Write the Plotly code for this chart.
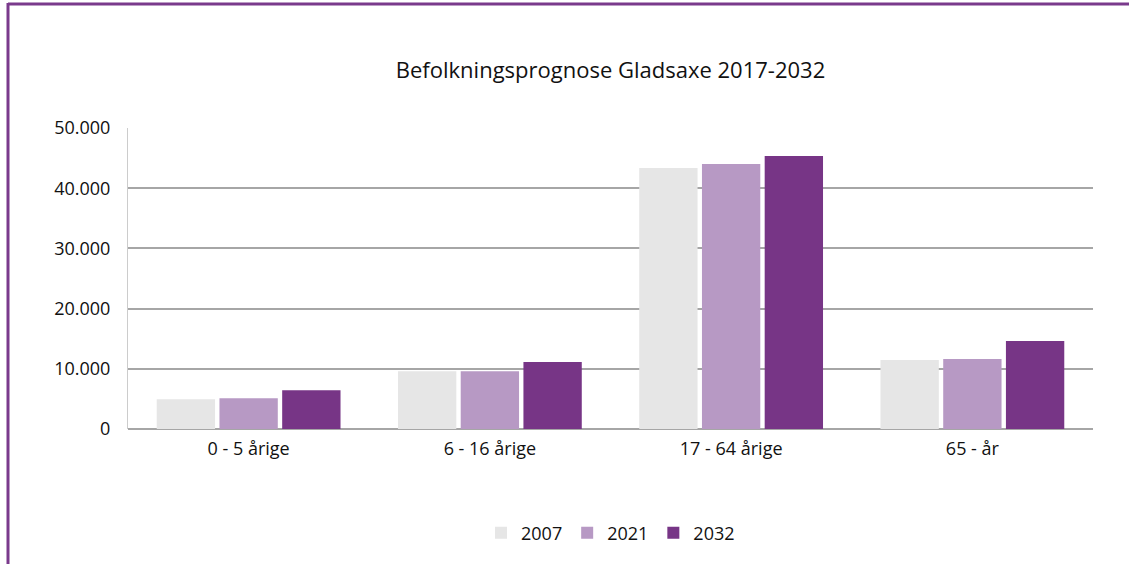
import plotly.graph_objects as go

categories = ["0 - 5 årige", "6 - 16 årige", "17 - 64 årige", "65 - år"]
series_names = ["2007", "2021", "2032"]
values_2007 = [4950, 9580, 43350, 11450]
values_2021 = [5100, 9580, 44000, 11630]
values_2032 = [6430, 11130, 45350, 14600]
colors = ["#E6E6E6", "#B799C4", "#773586"]
y_ticks = [0, 10000, 20000, 30000, 40000, 50000]

W, H = 1129, 564
L, R, T, B = 128, 1093, 128, 429

fig = go.Figure()
for name, vals, col in zip(series_names, [values_2007, values_2021, values_2032], colors):
    fig.add_trace(go.Bar(name=name, x=categories, y=vals, marker=dict(color=col, line=dict(width=0))))

pw, ph = R - L, B - T
def px2paper_x(x):
    return (x - L) / pw
def px2paper_y(y):
    return (B - y) / ph

border = "#7A3A8C"
fig.add_shape(type="line", xref="paper", yref="paper",
              x0=px2paper_x(8), x1=px2paper_x(1135), y0=px2paper_y(4), y1=px2paper_y(4),
              line=dict(color=border, width=3))
fig.add_shape(type="line", xref="paper", yref="paper",
              x0=px2paper_x(8), x1=px2paper_x(8), y0=px2paper_y(3), y1=px2paper_y(570),
              line=dict(color=border, width=3))

fig.update_layout(
    width=W, height=H,
    margin=dict(l=L, r=W - R, t=T, b=H - B, pad=0),
    paper_bgcolor="white", plot_bgcolor="white",
    font=dict(family="Open Sans, sans-serif", size=17, color="#111111"),
    title=dict(text="Befolkningsprognose Gladsaxe 2017-2032", x=0.5, xref="paper", xanchor="center",
               y=1 - 70 / H, yanchor="middle", font=dict(size=22)),
    barmode="group", bargap=0.22, bargroupgap=0.07,
    separators=",.",
    showlegend=True,
    legend=dict(orientation="h", x=0.5, xanchor="center", y=px2paper_y(533), yanchor="middle",
                font=dict(size=18), itemwidth=30, traceorder="normal"),
    xaxis=dict(showgrid=False, showline=False, ticks="", ticklabelstandoff=7, tickfont=dict(size=18)),
    yaxis=dict(range=[0, 50000], tickvals=y_ticks, tickformat=",d", showgrid=True, gridcolor="#A6A6A6",
               gridwidth=2, zeroline=True, zerolinecolor="#A6A6A6", zerolinewidth=2,
               showline=True, linecolor="#CCCCCC", linewidth=1, ticks="", ticklabelstandoff=13,
               tickfont=dict(size=18)),
)

fig.write_html("out.html", config={"displayModeBar": False},
               post_script="document.body.style.margin='0';document.body.style.padding='0';")
